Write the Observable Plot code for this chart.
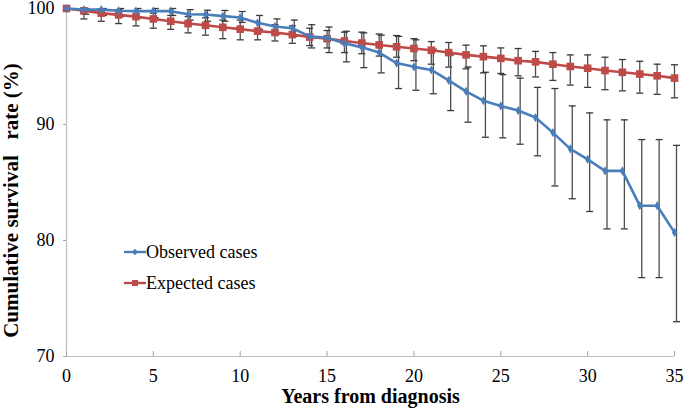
<!DOCTYPE html>
<html><head><meta charset="utf-8">
<script src="https://cdn.jsdelivr.net/npm/d3@7"></script>
<script src="https://cdn.jsdelivr.net/npm/@observablehq/plot@0.6"></script>
<style>
body{margin:0;background:#fff;}
#wrap{position:relative;width:685px;height:415px;font-family:"Liberation Serif","Times New Roman",serif;}
#wrap svg{overflow:visible}
.lg{position:absolute;left:124px;height:22px;display:flex;align-items:center;font-size:18px;color:#000;white-space:nowrap;}
.lg svg{display:block}
</style></head><body><div id="wrap"></div>
<script>
const years = [0,1,2,3,4,5,6,7,8,9,10,11,12,13,14,15,16,17,18,19,20,21,22,23,24,25,26,27,28,29,30,31,32,33,34,35];
const observed = [100,99.9,99.9,99.8,99.77,99.77,99.77,99.5,99.48,99.34,99.22,98.77,98.45,98.3,97.6,97.47,97.0,96.65,96.2,95.3,94.97,94.7,93.8,92.85,92.05,91.6,91.2,90.6,89.3,87.9,87.0,86.0,86.0,83.0,83.0,80.7];
const observedLow = [100,99.5,99.4,99.3,99.2,99.2,99.4,99.0,98.9,98.9,98.8,98.2,97.8,97.6,96.6,96.2,95.4,94.9,94.45,93.1,92.95,92.65,91.2,90.2,88.9,88.85,88.3,87.3,84.7,83.6,82.5,81.0,81.0,76.8,76.8,73.0];
const observedHigh = [100,100,100,100,100,100,100,99.9,99.85,99.83,99.74,99.4,99.1,99.0,98.6,98.4,98.04,97.9,97.7,97.6,97.3,96.5,96.0,94.95,94.5,94.3,94.0,93.2,93.1,91.6,91.0,90.4,90.4,88.7,88.7,88.2];
const expected = [100,99.8,99.6,99.45,99.3,99.1,98.9,98.7,98.55,98.38,98.22,98.05,97.93,97.75,97.54,97.4,97.2,97.02,96.86,96.7,96.55,96.4,96.2,96.0,95.85,95.7,95.5,95.4,95.2,95.0,94.85,94.65,94.5,94.35,94.2,94.0];
const expectedLow = [100,99.1,98.9,98.7,98.5,98.3,98.2,97.9,97.7,97.4,97.3,97.3,97.2,97.0,96.8,96.6,96.2,96.1,95.9,95.8,95.5,95.2,94.95,94.8,94.45,94.4,94.2,94.1,93.8,93.4,93.2,93.0,92.9,92.7,92.6,92.3];
const expectedHigh = [100,100.05,99.97,99.9,99.8,99.6,99.4,99.3,99.2,99.0,99.0,98.8,98.6,98.5,98.3,98.1,97.96,97.96,97.8,97.67,97.4,97.15,97.07,96.84,96.78,96.6,96.55,96.3,96.2,96.0,96.0,95.8,95.6,95.45,95.2,95.15];
const xTicks = [0,5,10,15,20,25,30,35];
const yTicks = [70,80,90,100];
const seriesNames = ["Observed cases","Expected cases"];
const colors = ["#4a7ebb","#be4b48"];

const obs = years.map((y,i)=>({year:y, v:observed[i], lo:observedLow[i], hi:observedHigh[i]}));
const exp = years.map((y,i)=>({year:y, v:expected[i], lo:expectedLow[i], hi:expectedHigh[i]}));
const obsBars = obs.filter(d=>d.lo!==d.hi);
const expBars = exp.filter(d=>d.lo!==d.hi);

const cap = {draw(ctx){ ctx.moveTo(-3.5,0); ctx.lineTo(3.5,0); }};
const barColor = "#3a3a3a";

function bars(data, dx){
  return [
    Plot.ruleX(data, {x:"year", y1:"lo", y2:"hi", stroke:barColor, strokeWidth:1.3, strokeOpacity:0.9, dx}),
    Plot.dot(data, {x:"year", y:"lo", symbol:cap, stroke:barColor, strokeWidth:1.3, fill:"none", dx}),
    Plot.dot(data, {x:"year", y:"hi", symbol:cap, stroke:barColor, strokeWidth:1.3, fill:"none", dx})
  ];
}

const chart = Plot.plot({
  width:685, height:415,
  marginLeft:66, marginRight:11, marginTop:8, marginBottom:59,
  x:{domain:[0,35]},
  y:{domain:[70,100]},
  style:{fontFamily:'"Liberation Serif","Times New Roman",serif', fontSize:"18px", color:"#000", background:"#fff", overflow:"visible"},
  marks:[
    Plot.ruleX([0], {stroke:"#bfbfbf", strokeWidth:1.2}),
    Plot.ruleY([70], {stroke:"#bfbfbf", strokeWidth:1.2}),
    Plot.axisY({ticks:yTicks, tickSize:3, tickPadding:9, label:null, stroke:"#a6a6a6", fontSize:18}),
    Plot.axisX({ticks:xTicks, tickSize:5, dy:-5, tickFormat:()=>"", label:null, stroke:"#a6a6a6"}),
    Plot.axisX({ticks:xTicks, tickSize:0, tickPadding:13, label:null, fontSize:18}),
    ...bars(expBars, 0),
    ...bars(obsBars, 2),
    Plot.line(exp, {x:"year", y:"v", stroke:colors[1], strokeWidth:2.6}),
    Plot.dot(exp, {x:"year", y:"v", symbol:"square", r:4.3, fill:colors[1], stroke:null}),
    Plot.line(obs, {x:"year", y:"v", stroke:colors[0], strokeWidth:2.6}),
    Plot.dot(obs, {x:"year", y:"v", symbol:"diamond", r:2.8, fill:colors[0], stroke:null}),
    Plot.text(["Years from diagnosis"], {frameAnchor:"bottom", dy:46, fontSize:20, fontWeight:"bold"}),
    Plot.text(["Cumulative survival\u00a0\u00a0 rate (%)"], {frameAnchor:"left", textAnchor:"middle", lineAnchor:"middle", dx:-55, dy:18, rotate:-90, fontSize:21, fontWeight:"bold"})
  ]
});
const wrap = document.getElementById("wrap");
wrap.appendChild(chart);

const legendTops = [241, 272];
const markers = [
  `<path d="M11,1.8 L14.2,5 L11,8.2 L7.8,5 Z" fill="${colors[0]}"/>`,
  `<rect x="8" y="2" width="6" height="6" fill="${colors[1]}"/>`
];
seriesNames.forEach((name,i)=>{
  const row = document.createElement("div");
  row.className = "lg";
  row.style.top = legendTops[i] + "px";
  row.innerHTML = `<svg width="22" height="10"><line x1="0" x2="22" y1="5" y2="5" stroke="${colors[i]}" stroke-width="2.4"/>${markers[i]}</svg><span>${name}</span>`;
  wrap.appendChild(row);
});
</script></body></html>
